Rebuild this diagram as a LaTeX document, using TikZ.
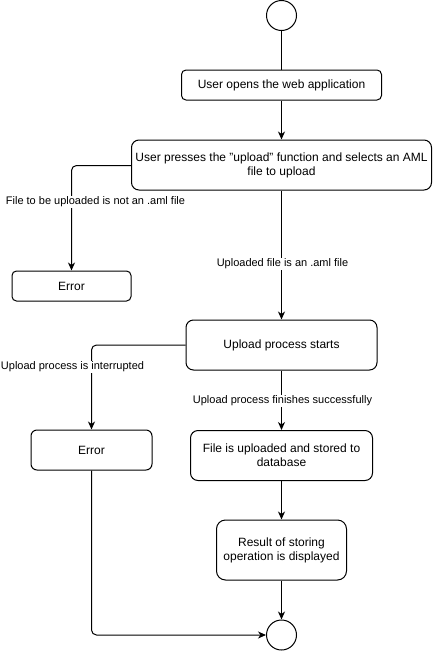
\documentclass[tikz,border=0pt]{standalone}
\usepackage{fontspec}
\setmainfont{Liberation Sans}
\usetikzlibrary{arrows.meta}
\tikzset{
  boxnode/.style={draw, line width=1pt, fill=white, align=center, inner sep=0pt,
    font=\fontsize{12}{14}\selectfont},
  termnode/.style={draw, line width=1pt, circle, minimum size=30pt, inner sep=0pt, fill=white},
  conn/.style={line width=1pt, -{Stealth[length=8pt,width=7pt,inset=2.5pt]}},
  plainconn/.style={line width=1pt},
  lbl/.style={fill=white, inner sep=0.5pt, font=\fontsize{11}{13}\selectfont}
}
\begin{document}
\begin{tikzpicture}[x=1pt,y=-1pt]
\useasboundingbox (0,0) rectangle (432,651);
\node[termnode] (start) at (281.5,15.5) {};
\node[boxnode, rounded corners=4.5pt, minimum width=200pt, minimum height=30pt] (b1) at (281.5,85) {User opens the web application};
\node[boxnode, rounded corners=7.5pt, minimum width=300pt, minimum height=50pt] (b2) at (281.5,165) {User presses the "upload" function and selects an AML\\file to upload};
\node[boxnode, rounded corners=4.5pt, minimum width=119pt, minimum height=30pt] (e1) at (71.5,286) {Error};
\node[boxnode, rounded corners=7.5pt, minimum width=191pt, minimum height=50pt] (b3) at (281.5,345) {Upload process starts};
\node[boxnode, rounded corners=6pt, minimum width=121pt, minimum height=40pt] (e2) at (91.5,450) {Error};
\node[boxnode, rounded corners=7.5pt, minimum width=182pt, minimum height=50pt] (b4) at (281.5,455.5) {File is uploaded and stored to\\database};
\node[boxnode, rounded corners=9pt, minimum width=130pt, minimum height=60pt] (b5) at (281.5,550) {Result of storing\\operation is displayed};
\node[termnode] (end) at (281.5,635) {};

\coordinate (c1) at (71.5,165.5);
\coordinate (c2) at (91.5,345);
\coordinate (c3) at (91.5,635);

\draw[plainconn] (start) -- (b1);
\draw[conn] (b1) -- (b2);
\draw[conn, rounded corners=5pt] (b2.west |- c1) -- (c1) -- (e1.north);
\draw[conn] (b2) -- (b3);
\draw[conn, rounded corners=5pt] (b3.west) -- (c2) -- (e2.north);
\draw[conn] (b3) -- (b4);
\draw[conn] (b4) -- (b5);
\draw[conn] (b5) -- (end);
\draw[conn, rounded corners=5pt] (e2.south) -- (c3) -- (end.west);

\node[lbl] (l1) at (95.5,202) {File to be uploaded is not an .aml file};
\node[lbl] (l2) at (282.5,264) {Uploaded file is an .aml file};
\node[lbl] (l3) at (72.5,367) {Upload process is interrupted};
\node[lbl] (l4) at (282.5,401) {Upload process finishes successfully};
\end{tikzpicture}
\end{document}
